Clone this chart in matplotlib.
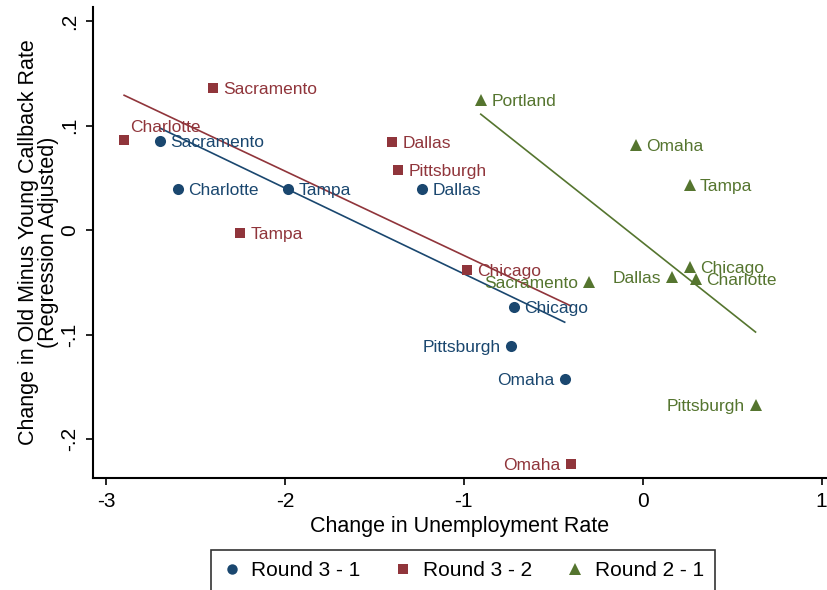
import matplotlib
matplotlib.use('Agg')
import matplotlib.pyplot as plt
from matplotlib.lines import Line2D
import numpy as np

plt.rcParams['font.family'] = ['Liberation Sans', 'DejaVu Sans']

# ---------------- data ----------------
series_names = ['Round 3 - 1', 'Round 3 - 2', 'Round 2 - 1']

cities_31 = ['Sacramento', 'Charlotte', 'Tampa', 'Dallas', 'Chicago', 'Pittsburgh', 'Omaha']
x_31 = [-2.698, -2.598, -1.983, -1.235, -0.721, -0.737, -0.436]
y_31 = [0.085, 0.039, 0.039, 0.039, -0.074, -0.111, -0.143]

cities_32 = ['Charlotte', 'Sacramento', 'Tampa', 'Dallas', 'Pittsburgh', 'Chicago', 'Omaha']
x_32 = [-2.899, -2.402, -2.251, -1.402, -1.369, -0.983, -0.402]
y_32 = [0.086, 0.136, -0.003, 0.084, 0.057, -0.038, -0.224]

cities_21 = ['Portland', 'Omaha', 'Tampa', 'Chicago', 'Charlotte', 'Dallas', 'Sacramento', 'Pittsburgh']
x_21 = [-0.905, -0.039, 0.263, 0.263, 0.296, 0.162, -0.302, 0.631]
y_21 = [0.124, 0.081, 0.043, -0.035, -0.047, -0.045, -0.050, -0.167]

fit_intercept = [-0.124, -0.105, -0.012]
fit_slope = [-0.0821, -0.0807, -0.1357]

x_ticks = [-3, -2, -1, 0, 1]
y_ticks = [-0.2, -0.1, 0.0, 0.1, 0.2]
y_tick_labels = ['-.2', '-.1', '0', '.1', '.2']

# ---------------- style ----------------
colors = ['#1a476f', '#90353b', '#55752f']
markers = ['o', 's', '^']
msizes = [8, 7.5, 8.5]
# label placement: 'r' right, 'l' left, 'tr' above-right
label_pos = [
    {'Pittsburgh': 'l', 'Omaha': 'l'},
    {'Omaha': 'l', 'Charlotte': 'tr'},
    {'Dallas': 'l', 'Sacramento': 'l', 'Pittsburgh': 'l'},
]

fig = plt.figure(figsize=(8.27, 5.9), dpi=100)
ax = fig.add_axes([93 / 827, 112 / 590, 733 / 827, 471 / 590])

all_series = [(cities_31, x_31, y_31), (cities_32, x_32, y_32), (cities_21, x_21, y_21)]
for i, (cities, xs, ys) in enumerate(all_series):
    c = colors[i]
    ax.plot(xs, ys, linestyle='none', marker=markers[i], markersize=msizes[i],
            color=c, markeredgewidth=0, zorder=3)
    xr = np.array([min(xs), max(xs)])
    ax.plot(xr, fit_intercept[i] + fit_slope[i] * xr, color=c, linewidth=1.2, zorder=2)
    for name, xv, yv in zip(cities, xs, ys):
        p = label_pos[i].get(name, 'r')
        if p == 'r':
            off, ha = (7.5, 0), 'left'
        elif p == 'l':
            off, ha = (-7.5, 0), 'right'
        else:
            off, ha = (4, 10), 'left'
        ax.annotate(name, (xv, yv), xytext=off, textcoords='offset points',
                    ha=ha, va='center_baseline', color=c, fontsize=12.5, zorder=4)

ax.set_xlim(-3.073, 1.025)
ax.set_ylim(-0.2373, 0.2134)
ax.set_xticks(x_ticks)
ax.set_xticklabels([str(t) for t in x_ticks])
ax.set_yticks(y_ticks)
ax.set_yticklabels(y_tick_labels, rotation=90, va='center')
ax.tick_params(direction='out', length=5, width=1.2, labelsize=15, pad=5, colors='black')
for s in ['top', 'right']:
    ax.spines[s].set_visible(False)
for s in ['left', 'bottom']:
    ax.spines[s].set_linewidth(1.5)

ax.set_xlabel('Change in Unemployment Rate', fontsize=15.5, labelpad=4)
ax.set_ylabel('Change in Old Minus Young Callback Rate\n(Regression Adjusted)',
              fontsize=15.5, labelpad=1, linespacing=0.95)

handles = [Line2D([], [], linestyle='none', marker=markers[i], markersize=msizes[i] - 0.5,
                  color=colors[i], markeredgewidth=0) for i in range(3)]
leg = fig.legend(handles, series_names, loc='upper center', bbox_to_anchor=(463 / 827, 1 - 550 / 590),
                 borderaxespad=0, ncol=3, fontsize=15, frameon=True, fancybox=False,
                 edgecolor='black', handletextpad=0.5, columnspacing=1.6, handlelength=0.9,
                 borderpad=0.55)
leg.get_frame().set_linewidth(1.2)

fig.savefig('out.png', dpi=100)
